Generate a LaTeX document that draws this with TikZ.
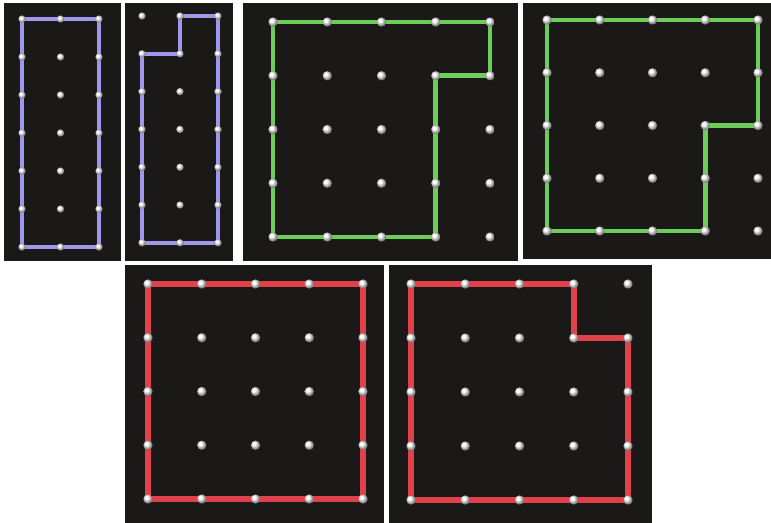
\documentclass[tikz,border=0pt]{standalone}
\usetikzlibrary{shadings}

% grid of peg positions: name, x0, y0, dx, dy, last column, last row
\newcommand\setpegs[7]{%
  \foreach \i in {0,...,#6}
    \foreach \j in {0,...,#7}
      \coordinate (#1-\i-\j) at ({#2+\i*#4},{#3+\j*#5});}
% the pegs themselves, on top of the band
\newcommand\drawpegs[4]{%
  \foreach \i in {0,...,#2}
    \foreach \j in {0,...,#3}
      \node [peg,minimum size=#4] (#1peg-\i-\j) at (#1-\i-\j) {};}

\begin{document}
\begin{tikzpicture}[x=0.75pt,y=-0.75pt,
  peg/.style={circle,inner sep=0pt,ball color=white!95!gray},
  band/.style={line join=round,line cap=round},
  purpleband/.style={band,draw=purpleband,line width=3pt},
  greenband/.style={band,draw=greenband,line width=3.6pt},
  redband/.style={band,draw=redband,line width=4.3pt}]
\definecolor{boardcolor}{RGB}{27,25,23}
\definecolor{purpleband}{RGB}{160,150,235}
\definecolor{greenband}{RGB}{110,205,90}
\definecolor{redband}{RGB}{225,65,75}
\useasboundingbox (0,0) rectangle (771,523);
\fill [white] (0,0) rectangle (771,523);
% boards
\fill [boardcolor] (4,3) rectangle (121,261);
\fill [boardcolor] (125,3) rectangle (233,261);
\fill [boardcolor] (243,3) rectangle (518,261);
\fill [boardcolor] (523,3) rectangle (771,259);
\fill [boardcolor] (125,265) rectangle (384,523);
\fill [boardcolor] (389,265) rectangle (652,523);
% peg grids
\setpegs{a}{22}{19}{38.5}{38}{2}{6}
\setpegs{b}{142}{16}{38}{37.8}{2}{6}
\setpegs{c}{273}{22}{54.25}{53.75}{4}{4}
\setpegs{d}{547}{20}{52.75}{52.75}{4}{4}
\setpegs{e}{148}{284}{53.75}{53.75}{4}{4}
\setpegs{f}{411}{284}{54.25}{54}{4}{4}
% rubber bands
\draw [purpleband] (a-0-0) -- (a-2-0) -- (a-2-6) -- (a-0-6) -- cycle;
\draw [purpleband] (b-1-0) -- (b-2-0) -- (b-2-6) -- (b-0-6) -- (b-0-1) -- (b-1-1) -- cycle;
\draw [greenband] (c-0-0) -- (c-4-0) -- (c-4-1) -- (c-3-1) -- (c-3-4) -- (c-0-4) -- cycle;
\draw [greenband] (d-0-0) -- (d-4-0) -- (d-4-2) -- (d-3-2) -- (d-3-4) -- (d-0-4) -- cycle;
\draw [redband] (e-0-0) -- (e-4-0) -- (e-4-4) -- (e-0-4) -- cycle;
\draw [redband] (f-0-0) -- (f-3-0) -- (f-3-1) -- (f-4-1) -- (f-4-4) -- (f-0-4) -- cycle;
% pegs
\drawpegs{a}{2}{6}{5.5pt}
\drawpegs{b}{2}{6}{5.5pt}
\drawpegs{c}{4}{4}{7pt}
\drawpegs{d}{4}{4}{7pt}
\drawpegs{e}{4}{4}{7pt}
\drawpegs{f}{4}{4}{7pt}
\end{tikzpicture}
\end{document}
